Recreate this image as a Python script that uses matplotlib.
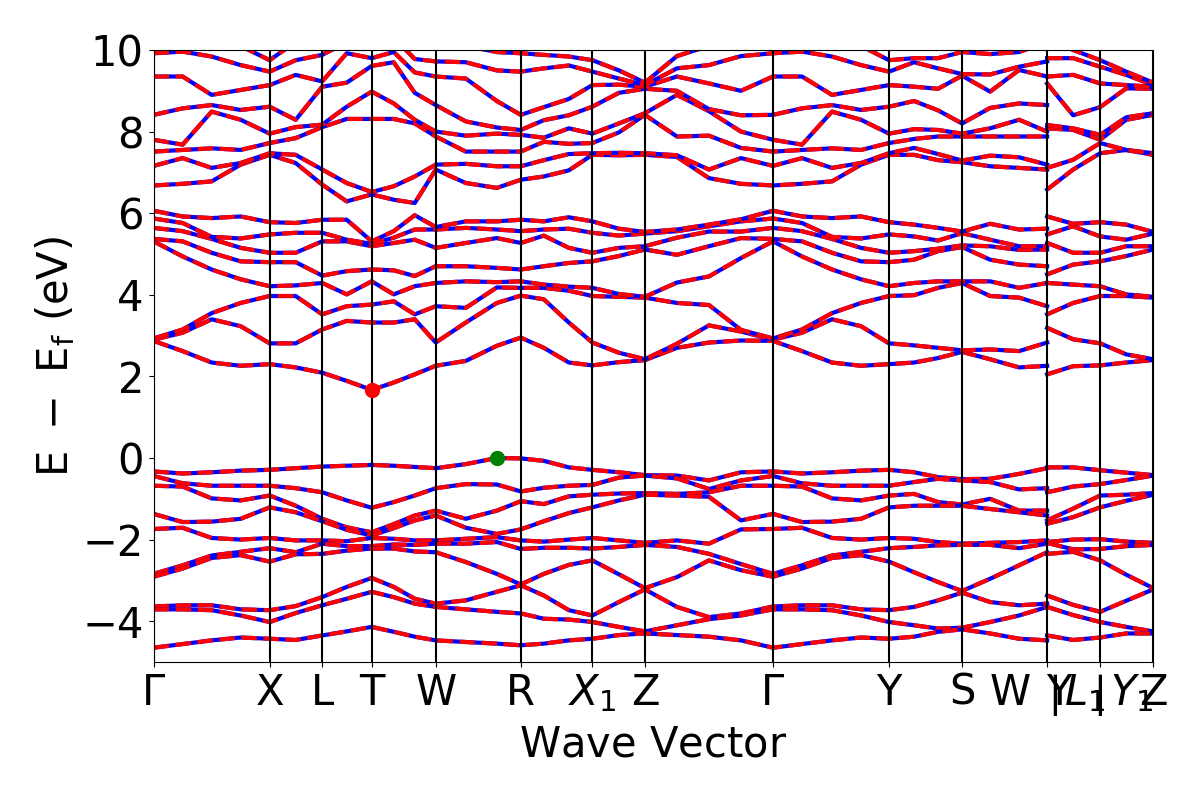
import numpy as np
import matplotlib
matplotlib.use("Agg")
import matplotlib.pyplot as plt

# high-symmetry points along the path (k distance)
tick_k = [0.0, 1.16, 1.685, 2.18, 2.82, 3.67, 4.385, 4.91, 6.19, 7.35, 8.08, 8.93, 9.46, 9.99]
tick_labels = [r"$\Gamma$", "X", "L", "T", "W", "R", r"$X_1$", "Z", r"$\Gamma$",
               "Y", "S", r"$\mid$", "", "Z"]
# pieces of the combined labels at the branch breaks, as drawn in the figure
break_k = [8.56, 9.05, 9.30, 9.38, 9.77]
break_labels = ["W", "Y", r"$L_1$", r"$\mid$", r"$Y_1$"]

# k samples, first branch (Gamma ... W) and second branch (Y ... Z)
k_a = [0.0, 0.29, 0.58, 0.87, 1.16, 1.42, 1.685, 1.93, 2.18, 2.40, 2.61, 2.82,
       3.12, 3.43, 3.67, 3.90, 4.15, 4.385, 4.65, 4.91, 5.23, 5.55, 5.87, 6.19,
       6.48, 6.78, 7.07, 7.35, 7.60, 7.84, 8.08, 8.36, 8.65, 8.93]
k_b = [8.93, 9.19, 9.46, 9.72, 9.99]

# valence bands, one row per k sample (eV)
vb_a = [
    [-0.33, -0.44, -0.68, -1.37, -1.74, -2.84, -2.91, -3.64, -3.71, -4.65],
    [-0.38, -0.62, -0.70, -1.57, -1.71, -2.63, -2.71, -3.61, -3.71, -4.56],
    [-0.35, -0.68, -0.99, -1.56, -1.96, -2.39, -2.45, -3.61, -3.73, -4.47],
    [-0.31, -0.68, -1.04, -1.49, -2.00, -2.30, -2.38, -3.71, -3.86, -4.40],
    [-0.29, -0.68, -0.92, -1.21, -1.96, -2.21, -2.54, -3.73, -4.02, -4.43],
    [-0.25, -0.74, -1.17, -1.33, -2.02, -2.31, -2.36, -3.63, -3.80, -4.46],
    [-0.21, -0.84, -1.49, -1.55, -2.02, -2.10, -2.35, -3.41, -3.61, -4.35],
    [-0.19, -1.04, -1.70, -1.76, -2.04, -2.16, -2.27, -3.16, -3.45, -4.25],
    [-0.17, -1.22, -1.82, -1.90, -1.96, -2.16, -2.22, -2.94, -3.28, -4.14],
    [-0.19, -1.08, -1.62, -1.72, -1.98, -2.12, -2.22, -3.16, -3.41, -4.26],
    [-0.22, -0.92, -1.41, -1.53, -2.02, -2.13, -2.29, -3.45, -3.57, -4.38],
    [-0.25, -0.74, -1.29, -1.41, -2.02, -2.10, -2.31, -3.57, -3.65, -4.47],
    [-0.15, -0.64, -1.49, -1.71, -1.98, -2.10, -2.55, -3.49, -3.71, -4.51],
    [0.00, -0.65, -1.29, -1.86, -1.94, -2.06, -2.84, -3.28, -3.77, -4.55],
    [-0.01, -0.82, -1.06, -1.75, -2.02, -2.23, -3.10, -3.12, -3.81, -4.59],
    [-0.07, -0.73, -1.13, -1.55, -2.05, -2.20, -2.84, -3.37, -3.94, -4.55],
    [-0.23, -0.68, -0.94, -1.35, -2.00, -2.20, -2.62, -3.73, -3.96, -4.47],
    [-0.29, -0.66, -0.90, -1.21, -1.96, -2.22, -2.51, -3.86, -4.02, -4.43],
    [-0.35, -0.48, -0.87, -1.04, -2.02, -2.18, -2.85, -3.53, -4.14, -4.34],
    [-0.42, -0.43, -0.86, -0.90, -2.08, -2.13, -3.19, -3.22, -4.25, -4.30],
    [-0.43, -0.50, -0.88, -0.92, -2.02, -2.18, -2.92, -3.65, -4.10, -4.34],
    [-0.55, -0.76, -0.84, -0.95, -2.10, -2.35, -2.51, -3.90, -3.95, -4.38],
    [-0.35, -0.55, -0.68, -1.53, -1.75, -2.60, -2.75, -3.81, -3.86, -4.47],
    [-0.33, -0.44, -0.68, -1.37, -1.74, -2.84, -2.91, -3.64, -3.71, -4.65],
    [-0.38, -0.62, -0.70, -1.57, -1.71, -2.63, -2.71, -3.61, -3.71, -4.56],
    [-0.35, -0.68, -0.99, -1.56, -1.96, -2.39, -2.45, -3.61, -3.73, -4.47],
    [-0.31, -0.68, -1.04, -1.49, -2.00, -2.30, -2.38, -3.71, -3.86, -4.40],
    [-0.29, -0.68, -0.92, -1.21, -1.96, -2.21, -2.54, -3.73, -4.02, -4.43],
    [-0.35, -0.59, -0.88, -1.17, -1.98, -2.18, -2.80, -3.65, -4.10, -4.38],
    [-0.47, -0.51, -1.08, -1.17, -2.06, -2.14, -3.04, -3.49, -4.18, -4.26],
    [-0.52, -0.55, -1.14, -1.17, -2.10, -2.13, -3.26, -3.30, -4.16, -4.20],
    [-0.51, -0.59, -1.00, -1.25, -2.08, -2.13, -2.96, -3.53, -4.02, -4.30],
    [-0.39, -0.77, -1.29, -1.33, -2.06, -2.21, -2.63, -3.61, -3.86, -4.43],
    [-0.25, -0.74, -1.29, -1.41, -2.02, -2.10, -2.31, -3.57, -3.65, -4.47],
]
vb_b = [
    [-0.23, -0.84, -1.53, -1.61, -2.06, -2.08, -2.35, -3.37, -3.65, -4.35],
    [-0.23, -0.70, -1.24, -1.45, -2.00, -2.24, -2.30, -3.60, -3.85, -4.46],
    [-0.30, -0.64, -0.92, -1.21, -1.99, -2.23, -2.51, -3.77, -4.02, -4.40],
    [-0.36, -0.54, -0.90, -1.05, -2.05, -2.16, -2.86, -3.50, -4.14, -4.30],
    [-0.42, -0.43, -0.86, -0.90, -2.08, -2.13, -3.19, -3.22, -4.25, -4.30],
]

# conduction bands, one row per k sample (eV)
cb_a = [
    [2.87, 2.90, 2.93, 5.31, 5.37, 5.64, 5.87, 6.06, 6.68, 7.16, 7.51, 7.80, 8.41, 9.35, 9.92, 10.3, 10.6, 10.9],
    [2.62, 3.07, 3.15, 4.94, 5.31, 5.56, 5.76, 5.92, 6.72, 7.35, 7.55, 7.68, 8.57, 9.35, 9.96, 10.3, 10.6, 10.9],
    [2.34, 3.40, 3.55, 4.62, 5.03, 5.37, 5.42, 5.88, 6.78, 7.11, 7.59, 8.49, 8.65, 8.90, 9.84, 10.3, 10.6, 10.9],
    [2.26, 3.23, 3.80, 4.38, 4.82, 5.15, 5.38, 5.92, 7.19, 7.23, 7.55, 8.29, 8.53, 9.02, 9.63, 10.1, 10.5, 10.9],
    [2.30, 2.81, 3.97, 4.21, 4.80, 5.03, 5.48, 5.78, 7.43, 7.47, 7.72, 7.95, 8.61, 9.14, 9.47, 9.75, 10.3, 10.7],
    [2.22, 2.81, 3.97, 4.23, 4.80, 5.03, 5.52, 5.76, 7.23, 7.43, 7.84, 8.11, 8.29, 9.39, 9.75, 10.2, 10.5, 10.8],
    [2.09, 3.15, 3.52, 4.29, 4.47, 5.31, 5.52, 5.84, 6.70, 7.07, 8.11, 8.17, 9.10, 9.23, 9.88, 10.2, 10.5, 10.8],
    [1.89, 3.36, 3.72, 4.01, 4.58, 5.31, 5.35, 5.84, 6.29, 6.74, 8.31, 8.61, 9.20, 9.92, 10.2, 10.4, 10.6, 10.9],
    [1.67, 3.32, 3.76, 4.33, 4.62, 5.19, 5.25, 5.31, 6.46, 6.52, 8.31, 8.98, 9.61, 9.80, 10.2, 10.4, 10.6, 10.9],
    [1.85, 3.32, 3.84, 4.01, 4.60, 5.27, 5.40, 5.56, 6.33, 6.66, 8.31, 8.69, 9.70, 9.95, 10.3, 10.5, 10.7, 10.9],
    [2.05, 3.40, 3.52, 4.21, 4.46, 5.35, 5.60, 5.95, 6.25, 6.90, 8.20, 8.29, 8.95, 9.45, 9.78, 10.2, 10.5, 10.8],
    [2.26, 2.83, 3.72, 4.29, 4.70, 5.15, 5.60, 5.66, 7.07, 7.19, 7.88, 8.00, 8.65, 9.35, 9.72, 10.2, 10.5, 10.8],
    [2.38, 3.32, 3.68, 4.33, 4.70, 5.27, 5.64, 5.80, 6.74, 7.21, 7.51, 7.90, 8.25, 9.30, 9.70, 10.1, 10.5, 10.8],
    [2.75, 3.80, 4.18, 4.31, 4.66, 5.39, 5.60, 5.80, 6.62, 7.15, 7.51, 7.95, 8.10, 8.75, 9.50, 9.95, 10.4, 10.8],
    [2.95, 3.98, 4.17, 4.33, 4.62, 5.27, 5.56, 5.84, 6.82, 7.15, 7.51, 7.92, 8.04, 8.41, 9.47, 9.92, 10.3, 10.7],
    [2.70, 3.89, 4.17, 4.25, 4.70, 5.45, 5.60, 5.80, 6.90, 7.30, 7.75, 7.85, 8.28, 8.60, 9.55, 9.88, 10.3, 10.7],
    [2.34, 3.32, 4.10, 4.20, 4.78, 5.15, 5.62, 5.90, 7.05, 7.45, 7.70, 8.08, 8.40, 8.80, 9.62, 9.84, 10.3, 10.7],
    [2.27, 2.83, 3.97, 4.17, 4.82, 5.03, 5.52, 5.80, 7.43, 7.47, 7.72, 7.95, 8.61, 9.14, 9.47, 9.75, 10.3, 10.7],
    [2.35, 2.58, 3.95, 4.02, 4.95, 5.15, 5.45, 5.62, 7.42, 7.48, 7.98, 8.20, 8.95, 9.15, 9.30, 9.50, 10.4, 10.8],
    [2.40, 2.42, 3.93, 3.95, 5.11, 5.19, 5.50, 5.54, 7.43, 7.47, 8.41, 8.45, 9.05, 9.10, 9.14, 9.20, 10.4, 10.8],
    [2.70, 2.80, 3.80, 4.30, 4.98, 5.40, 5.56, 5.60, 7.38, 7.42, 7.88, 8.90, 9.00, 9.35, 9.55, 9.85, 10.4, 10.8],
    [2.83, 3.25, 3.75, 4.45, 5.19, 5.55, 5.68, 5.72, 6.86, 7.07, 7.90, 8.50, 8.55, 9.18, 9.63, 10.1, 10.4, 10.8],
    [2.88, 3.10, 3.14, 4.90, 5.39, 5.55, 5.80, 5.85, 6.72, 7.35, 7.60, 8.00, 8.40, 9.00, 9.85, 10.1, 10.4, 10.8],
    [2.87, 2.90, 2.93, 5.31, 5.37, 5.64, 5.87, 6.06, 6.68, 7.16, 7.51, 7.80, 8.41, 9.35, 9.92, 10.3, 10.6, 10.9],
    [2.62, 3.07, 3.15, 4.94, 5.31, 5.56, 5.76, 5.92, 6.72, 7.35, 7.55, 7.68, 8.57, 9.35, 9.96, 10.3, 10.6, 10.9],
    [2.34, 3.40, 3.55, 4.62, 5.03, 5.37, 5.42, 5.88, 6.78, 7.11, 7.59, 8.49, 8.65, 8.90, 9.84, 10.3, 10.6, 10.9],
    [2.26, 3.23, 3.80, 4.38, 4.82, 5.15, 5.38, 5.92, 7.19, 7.23, 7.55, 8.29, 8.53, 9.02, 9.63, 10.1, 10.5, 10.9],
    [2.30, 2.81, 3.97, 4.21, 4.80, 5.03, 5.48, 5.78, 7.43, 7.47, 7.72, 7.95, 8.61, 9.14, 9.47, 9.75, 10.3, 10.7],
    [2.34, 2.76, 3.99, 4.29, 4.86, 5.07, 5.43, 5.72, 7.43, 7.60, 7.82, 8.06, 8.75, 9.10, 9.70, 9.80, 10.4, 10.8],
    [2.45, 2.70, 4.17, 4.33, 5.07, 5.13, 5.33, 5.64, 7.30, 7.45, 7.88, 8.04, 8.52, 9.05, 9.55, 9.80, 10.4, 10.8],
    [2.60, 2.64, 4.29, 4.33, 5.17, 5.21, 5.51, 5.55, 7.25, 7.29, 7.88, 7.95, 8.20, 9.37, 9.41, 9.95, 10.4, 10.8],
    [2.42, 2.66, 3.97, 4.33, 4.86, 5.19, 5.35, 5.74, 7.15, 7.41, 7.88, 8.08, 8.58, 8.98, 9.40, 9.90, 10.4, 10.8],
    [2.22, 2.62, 3.93, 4.17, 4.74, 5.10, 5.19, 5.60, 7.11, 7.37, 7.88, 8.29, 8.69, 9.51, 9.59, 9.95, 10.4, 10.8],
    [2.26, 2.83, 3.72, 4.29, 4.70, 5.11, 5.19, 5.62, 7.07, 7.19, 7.88, 8.00, 8.65, 9.35, 9.72, 10.2, 10.5, 10.8],
]
cb_b = [
    [2.05, 3.19, 3.52, 4.29, 4.50, 5.27, 5.48, 5.92, 6.58, 7.11, 8.08, 8.16, 9.18, 9.35, 9.80, 10.3, 10.6, 10.9],
    [2.25, 2.91, 3.80, 4.25, 4.74, 5.03, 5.68, 5.74, 7.07, 7.31, 8.04, 8.08, 8.40, 9.39, 9.80, 10.0, 10.5, 10.9],
    [2.27, 2.81, 3.97, 4.21, 4.82, 5.03, 5.43, 5.78, 7.47, 7.72, 7.80, 7.92, 8.60, 9.18, 9.59, 9.75, 10.4, 10.8],
    [2.34, 2.54, 3.97, 4.01, 4.95, 5.19, 5.35, 5.72, 7.55, 7.55, 8.29, 8.35, 9.06, 9.14, 9.39, 9.47, 10.4, 10.8],
    [2.40, 2.42, 3.93, 3.95, 5.11, 5.19, 5.50, 5.54, 7.43, 7.47, 8.41, 8.45, 9.05, 9.10, 9.14, 9.20, 10.4, 10.8],
]

# band extrema markers
cbm = (2.18, 1.67)
vbm = (3.43, 0.0)

fig, ax = plt.subplots(figsize=(12, 8), dpi=100)
fig.subplots_adjust(left=0.128, right=0.961, bottom=0.1725, top=0.9375)

for k, vb, cb in [(k_a, vb_a, cb_a), (k_b, vb_b, cb_b)]:
    bands = np.hstack([np.array(vb), np.array(cb)]).T
    for band in bands:
        ax.plot(k, band, 'b-', lw=3)
        ax.plot(k, band, 'r--', lw=3)

for x in tick_k:
    ax.axvline(x, color='k', lw=1.5)

ax.scatter([cbm[0]], [cbm[1]], s=100, color='r', zorder=5)
ax.scatter([vbm[0]], [vbm[1]], s=100, color='g', zorder=5)

ax.set_xlim(tick_k[0], tick_k[-1])
ax.set_ylim(-5, 10)
ax.set_xticks(tick_k)
ax.set_xticklabels(tick_labels)
ax.set_xticks(break_k, minor=True)
ax.set_xticklabels(break_labels, minor=True)
ax.set_yticks([-4, -2, 0, 2, 4, 6, 8, 10])
ax.tick_params(labelsize=30)
ax.tick_params(axis='x', which='minor', length=0, pad=7, labelsize=30)
ax.set_xlabel(r"$\mathrm{Wave\ Vector}$", fontsize=30)
ax.set_ylabel(r"$\mathrm{E\ -\ E_f\ (eV)}$", fontsize=30)

fig.savefig("out.png", dpi=100)
